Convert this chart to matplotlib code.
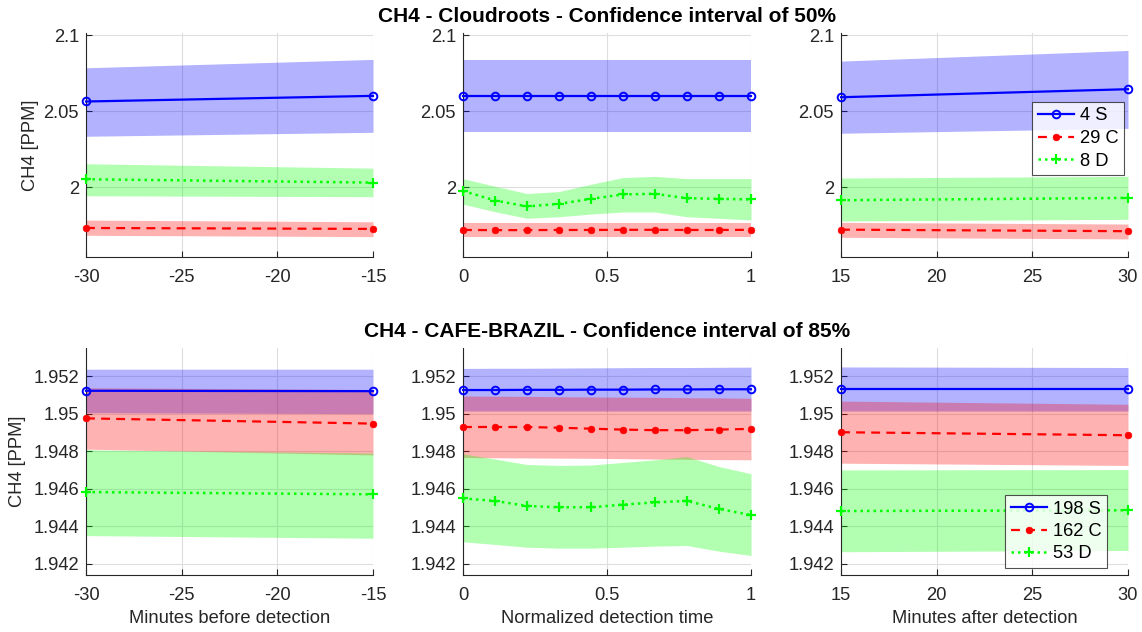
import numpy as np
import matplotlib
matplotlib.use("Agg")
import matplotlib.pyplot as plt
from matplotlib.lines import Line2D

plt.rcParams['font.family'] = ['Liberation Sans', 'DejaVu Sans']

# ---------------- time axes ----------------
x_before = [-30, -15]
x_norm = list(np.linspace(0, 1, 10))
x_after = [15, 30]

# ---------------- Cloudroots (50% CI) ----------------
cr_before_S = [2.0564, 2.0601]
cr_before_S_lo = [2.0335, 2.0361]
cr_before_S_hi = [2.0786, 2.0841]
cr_before_C = [1.9731, 1.9725]
cr_before_C_lo = [1.9683, 1.9674]
cr_before_C_hi = [1.9783, 1.9772]
cr_before_D = [2.0052, 2.0030]
cr_before_D_lo = [1.9943, 1.9937]
cr_before_D_hi = [2.0154, 2.0125]

cr_norm_S = [2.0599] * 10
cr_norm_S_lo = [2.0361] * 10
cr_norm_S_hi = [2.0836] * 10
cr_norm_C = [1.9718, 1.9717, 1.9717, 1.9718, 1.9718, 1.9719, 1.9719, 1.9718, 1.9718, 1.9719]
cr_norm_C_lo = [1.9670] * 10
cr_norm_C_hi = [1.9766] * 10
cr_norm_D = [1.9975, 1.9912, 1.9873, 1.9890, 1.9923, 1.9952, 1.9956, 1.9927, 1.9923, 1.9919]
cr_norm_D_lo = [1.9888, 1.9838, 1.9795, 1.9805, 1.9823, 1.9836, 1.9836, 1.9805, 1.9795, 1.9784]
cr_norm_D_hi = [2.0056, 2.0006, 1.9958, 1.9971, 2.0019, 2.0063, 2.0071, 2.0056, 2.0056, 2.0056]

cr_after_S = [2.0592, 2.0645]
cr_after_S_lo = [2.0355, 2.0387]
cr_after_S_hi = [2.0830, 2.0900]
cr_after_C = [1.9720, 1.9710]
cr_after_C_lo = [1.9670, 1.9659]
cr_after_C_hi = [1.9768, 1.9757]
cr_after_D = [1.9914, 1.9929]
cr_after_D_lo = [1.9777, 1.9788]
cr_after_D_hi = [2.0060, 2.0071]

# ---------------- CAFE-BRAZIL (85% CI) ----------------
cb_before_S = [1.95122, 1.95120]
cb_before_S_lo = [1.95005, 1.95000]
cb_before_S_hi = [1.95237, 1.95237]
cb_before_C = [1.94975, 1.94947]
cb_before_C_lo = [1.94811, 1.94780]
cb_before_C_hi = [1.95138, 1.95129]
cb_before_D = [1.94582, 1.94570]
cb_before_D_lo = [1.94350, 1.94336]
cb_before_D_hi = [1.94807, 1.94790]

cb_norm_S = [1.95126, 1.95126, 1.95127, 1.95127, 1.95128, 1.95128, 1.95129, 1.95129, 1.95130, 1.95130]
cb_norm_S_lo = [1.95014] * 10
cb_norm_S_hi = [1.95241, 1.95242, 1.95242, 1.95243, 1.95244, 1.95245, 1.95246, 1.95246, 1.95247, 1.95248]
cb_norm_C = [1.94929, 1.94929, 1.94929, 1.94925, 1.94920, 1.94915, 1.94912, 1.94912, 1.94915, 1.94919]
cb_norm_C_lo = [1.94766, 1.94765, 1.94764, 1.94763, 1.94762, 1.94760, 1.94758, 1.94757, 1.94755, 1.94754]
cb_norm_C_hi = [1.95094, 1.95093, 1.95092, 1.95090, 1.95089, 1.95088, 1.95087, 1.95085, 1.95084, 1.95082]
cb_norm_D = [1.94548, 1.94535, 1.94508, 1.94501, 1.94501, 1.94515, 1.94527, 1.94535, 1.94492, 1.94460]
cb_norm_D_lo = [1.94317, 1.94303, 1.94288, 1.94283, 1.94283, 1.94288, 1.94294, 1.94297, 1.94267, 1.94244]
cb_norm_D_hi = [1.94786, 1.94758, 1.94729, 1.94724, 1.94726, 1.94740, 1.94754, 1.94771, 1.94718, 1.94680]

cb_after_S = [1.95131, 1.95131]
cb_after_S_lo = [1.95014, 1.95014]
cb_after_S_hi = [1.95249, 1.95246]
cb_after_C = [1.94901, 1.94885]
cb_after_C_lo = [1.94736, 1.94724]
cb_after_C_hi = [1.95067, 1.95050]
cb_after_D = [1.94481, 1.94485]
cb_after_D_lo = [1.94264, 1.94271]
cb_after_D_hi = [1.94700, 1.94702]

legend_top = ['4 S', '29 C', '8 D']
legend_bottom = ['198 S', '162 C', '53 D']

top_yticks = [2.0, 2.05, 2.1]
top_yticklabels = ['2', '2.05', '2.1']
bot_yticks = [1.942, 1.944, 1.946, 1.948, 1.95, 1.952]
bot_yticklabels = ['1.942', '1.944', '1.946', '1.948', '1.95', '1.952']

xticks_before = [-30, -25, -20, -15]
xticks_norm = [0, 0.5, 1]
xticklabels_norm = ['0', '0.5', '1']
xticks_after = [15, 20, 25, 30]

BLUE, RED, GREEN = (0, 0, 1), (1, 0, 0), (0, 1, 0)
AXC = (0.15, 0.15, 0.15)
FS = 13.2

styles = {
    'S': dict(color=BLUE, ls='-', marker='o', mfc='none', mec=BLUE, ms=5.5, mew=1.4, lw=1.6),
    'C': dict(color=RED, ls=(0, (4, 2.8)), marker='o', mfc=RED, mec=RED, ms=4.8, mew=0.5, lw=1.6),
    'D': dict(color=GREEN, ls=(0, (1, 1.6)), marker='+', mfc=GREEN, mec=GREEN, ms=7, mew=1.6, lw=1.8),
}

fig = plt.figure(figsize=(11.42, 6.32), dpi=100)

W = 1142.0
H = 632.0


def make_axes(left_px, right_px, top_px, bottom_px):
    return fig.add_axes([left_px / W, 1 - bottom_px / H,
                         (right_px - left_px) / W, (bottom_px - top_px) / H])


def draw_panel(ax, x, series, xlim, xticks, xticklabels, ylim, yticks, yticklabels):
    # confidence bands first (S, C, D order), then the mean lines
    for key, (m, lo, hi) in series:
        col = styles[key]['color']
        ax.fill_between(x, lo, hi, color=col, alpha=0.3, lw=0, zorder=1)
    for key, (m, lo, hi) in series:
        ax.plot(x, m, zorder=3, clip_on=False, **styles[key])
    ax.set_xlim(*xlim)
    ax.set_ylim(*ylim)
    ax.set_xticks(xticks)
    ax.set_xticklabels(xticklabels)
    ax.set_yticks(yticks)
    ax.set_yticklabels(yticklabels)
    ax.grid(True, color='#dedede', lw=0.8, zorder=0)
    ax.set_axisbelow(True)
    for s in ('top', 'right'):
        ax.spines[s].set_visible(False)
    for s in ('left', 'bottom'):
        ax.spines[s].set_color(AXC)
        ax.spines[s].set_linewidth(0.8)
    ax.tick_params(direction='in', length=4, width=0.8, color=AXC,
                   labelcolor=AXC, labelsize=FS)
    ax.tick_params(axis='x', pad=9)
    ax.tick_params(axis='y', pad=5)


cols_px = [(86, 373), (463, 751), (841, 1128)]
top_px = (33, 257)
bot_px = (348, 575)

top_ylim = (1.954, 2.1015)
bot_ylim = (1.9414, 1.9535)

top_data = [
    (x_before, [('S', (cr_before_S, cr_before_S_lo, cr_before_S_hi)),
                ('C', (cr_before_C, cr_before_C_lo, cr_before_C_hi)),
                ('D', (cr_before_D, cr_before_D_lo, cr_before_D_hi))]),
    (x_norm, [('S', (cr_norm_S, cr_norm_S_lo, cr_norm_S_hi)),
              ('C', (cr_norm_C, cr_norm_C_lo, cr_norm_C_hi)),
              ('D', (cr_norm_D, cr_norm_D_lo, cr_norm_D_hi))]),
    (x_after, [('S', (cr_after_S, cr_after_S_lo, cr_after_S_hi)),
               ('C', (cr_after_C, cr_after_C_lo, cr_after_C_hi)),
               ('D', (cr_after_D, cr_after_D_lo, cr_after_D_hi))]),
]
bot_data = [
    (x_before, [('S', (cb_before_S, cb_before_S_lo, cb_before_S_hi)),
                ('C', (cb_before_C, cb_before_C_lo, cb_before_C_hi)),
                ('D', (cb_before_D, cb_before_D_lo, cb_before_D_hi))]),
    (x_norm, [('S', (cb_norm_S, cb_norm_S_lo, cb_norm_S_hi)),
              ('C', (cb_norm_C, cb_norm_C_lo, cb_norm_C_hi)),
              ('D', (cb_norm_D, cb_norm_D_lo, cb_norm_D_hi))]),
    (x_after, [('S', (cb_after_S, cb_after_S_lo, cb_after_S_hi)),
               ('C', (cb_after_C, cb_after_C_lo, cb_after_C_hi)),
               ('D', (cb_after_D, cb_after_D_lo, cb_after_D_hi))]),
]

xspecs = [
    ((-30, -15), xticks_before, [str(v) for v in xticks_before]),
    ((0, 1), xticks_norm, xticklabels_norm),
    ((15, 30), xticks_after, [str(v) for v in xticks_after]),
]
xlabels = ['Minutes before detection', 'Normalized detection time', 'Minutes after detection']

top_axes, bot_axes = [], []
for i, (l, r) in enumerate(cols_px):
    ax = make_axes(l, r, *top_px)
    x, ser = top_data[i]
    draw_panel(ax, x, ser, xspecs[i][0], xspecs[i][1], xspecs[i][2],
               top_ylim, top_yticks, top_yticklabels)
    top_axes.append(ax)

    ax = make_axes(l, r, *bot_px)
    x, ser = bot_data[i]
    draw_panel(ax, x, ser, xspecs[i][0], xspecs[i][1], xspecs[i][2],
               bot_ylim, bot_yticks, bot_yticklabels)
    ax.set_xlabel(xlabels[i], fontsize=FS, color=AXC, labelpad=4)
    bot_axes.append(ax)

top_axes[0].set_ylabel('CH4 [PPM]', fontsize=FS, color=AXC, labelpad=3)
bot_axes[0].set_ylabel('CH4 [PPM]', fontsize=FS, color=AXC, labelpad=5)

top_axes[1].set_title('CH4 - Cloudroots - Confidence interval of 50%',
                      fontsize=15, fontweight='bold', pad=8)
bot_axes[1].set_title('CH4 - CAFE-BRAZIL - Confidence interval of 85%',
                      fontsize=15, fontweight='bold', pad=8)


def legend_handles():
    return [Line2D([0], [0], **styles[k]) for k in ('S', 'C', 'D')]


for ax, labels, anchor in ((top_axes[2], legend_top, (1124 / W, 1 - 102 / H)),
                           (bot_axes[2], legend_bottom, (1107 / W, 1 - 495 / H))):
    leg = ax.legend(legend_handles(), labels, loc='upper right',
                    bbox_to_anchor=anchor, bbox_transform=fig.transFigure,
                    fontsize=FS, frameon=True, fancybox=False,
                    handlelength=2.0, handletextpad=0.3, borderpad=0.3,
                    labelspacing=0.3, borderaxespad=0)
    leg.get_frame().set_edgecolor(AXC)
    leg.get_frame().set_linewidth(0.8)
    leg.set_zorder(10)

fig.savefig('out.png', dpi=100)
